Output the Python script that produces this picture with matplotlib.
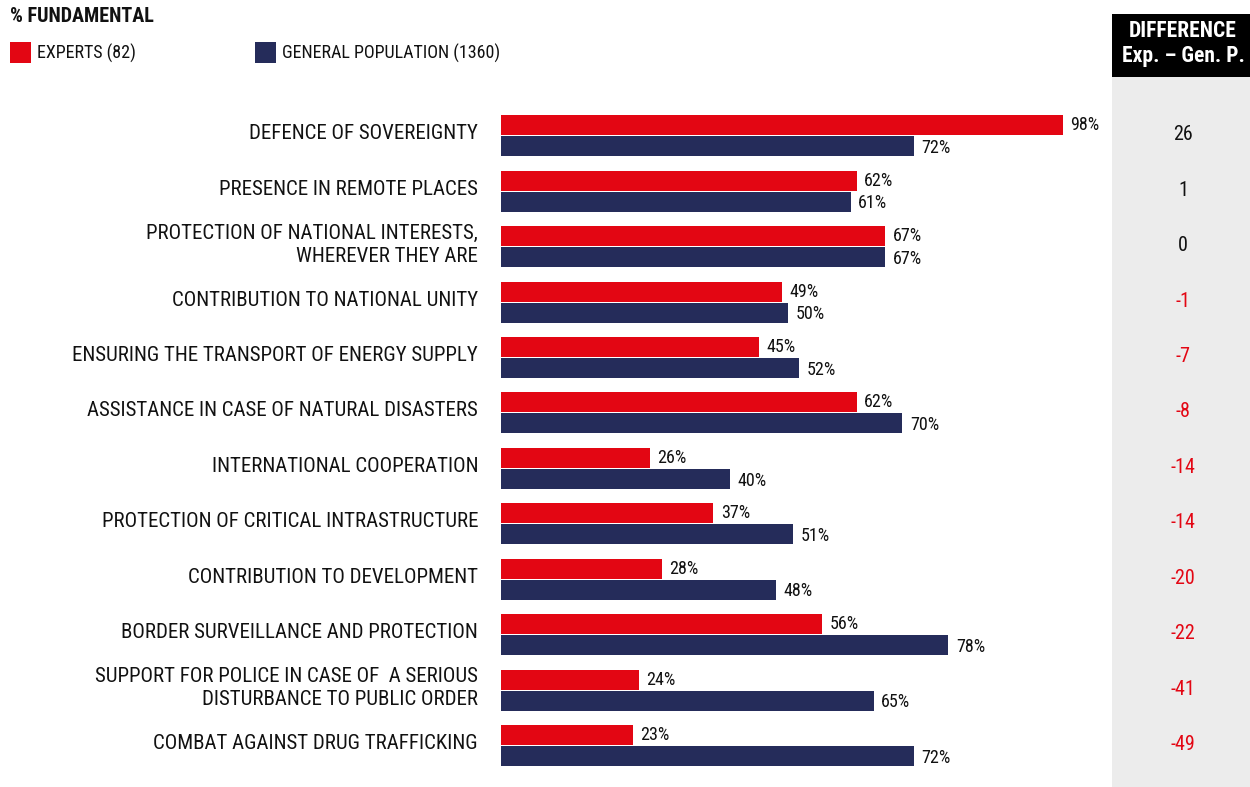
import matplotlib
matplotlib.use("Agg")
import matplotlib.pyplot as plt
from matplotlib.patches import Rectangle
import numpy as np

plt.rcParams['font.family'] = ['Roboto Condensed', 'Liberation Sans', 'DejaVu Sans']

categories = [
    "DEFENCE OF SOVEREIGNTY",
    "PRESENCE IN REMOTE PLACES",
    "PROTECTION OF NATIONAL INTERESTS,\nWHEREVER THEY ARE",
    "CONTRIBUTION TO NATIONAL UNITY",
    "ENSURING THE TRANSPORT OF ENERGY SUPPLY",
    "ASSISTANCE IN CASE OF NATURAL DISASTERS",
    "INTERNATIONAL COOPERATION",
    "PROTECTION OF CRITICAL INTRASTRUCTURE",
    "CONTRIBUTION TO DEVELOPMENT",
    "BORDER SURVEILLANCE AND PROTECTION",
    "SUPPORT FOR POLICE IN CASE OF  A SERIOUS\nDISTURBANCE TO PUBLIC ORDER",
    "COMBAT AGAINST DRUG TRAFFICKING",
]
experts = [98, 62, 67, 49, 45, 62, 26, 37, 28, 56, 24, 23]
general = [72, 61, 67, 50, 52, 70, 40, 51, 48, 78, 65, 72]
difference = [26, 1, 0, -1, -7, -8, -14, -14, -20, -22, -41, -49]

RED = '#e30613'
NAVY = '#252c5a'
GREY = '#ececec'
INK = '#111111'

W, H = 1250, 787
fig = plt.figure(figsize=(W / 100, H / 100), dpi=100)

# grey difference panel + black header (behind the axes)
fig.patches.append(Rectangle((1112 / W, 0), 138 / W, 1 - 14 / H, transform=fig.transFigure,
                             facecolor=GREY, edgecolor='none', zorder=-2))
fig.patches.append(Rectangle((1112 / W, 1 - 77 / H), 138 / W, 63 / H, transform=fig.transFigure,
                             facecolor='black', edgecolor='none', zorder=-1))
fig.text(1183 / W, 1 - 31 / H, "DIFFERENCE", color='white', fontweight='bold',
         fontsize=15.5, ha='center', va='center')
fig.text(1183 / W, 1 - 56 / H, "Exp. \u2013 Gen. P.", color='white', fontweight='bold',
         fontsize=15.5, ha='center', va='center')

# title and legend
fig.text(10 / W, 1 - 17 / H, "% FUNDAMENTAL", fontweight='bold', fontsize=14.5,
         ha='left', va='center', color=INK)
fig.patches.append(Rectangle((10 / W, 1 - 63 / H), 21 / W, 21 / H, transform=fig.transFigure,
                             facecolor=RED, edgecolor='none'))
fig.text(37 / W, 1 - 53 / H, "EXPERTS (82)", fontsize=13, ha='left', va='center', color=INK)
fig.patches.append(Rectangle((255 / W, 1 - 63 / H), 21 / W, 21 / H, transform=fig.transFigure,
                             facecolor=NAVY, edgecolor='none'))
fig.text(282 / W, 1 - 53 / H, "GENERAL POPULATION (1360)", fontsize=13, ha='left',
         va='center', color=INK)

# bar axes
n = len(categories)
row_h = 55.45
top = 108
ax = fig.add_axes([501 / W, 1 - (top + n * row_h) / H, 573.5 / W, n * row_h / H])
ax.set_xlim(0, 100)
ax.set_ylim(n - 0.5, -0.5)
ax.axis('off')

y = np.arange(n)
off = 10.5 / row_h
bh = 20 / row_h
ax.barh(y - off, experts, height=bh, color=RED)
ax.barh(y + off, general, height=bh, color=NAVY)

for i in range(n):
    ax.text(experts[i] + 1.3, y[i] - off, f"{experts[i]}%", va='center', ha='left',
            fontsize=13, color=INK, clip_on=False)
    ax.text(general[i] + 1.3, y[i] + off + 0.03, f"{general[i]}%", va='center', ha='left',
            fontsize=13, color=INK, clip_on=False)
    ax.annotate(categories[i], xy=(0, y[i]), xytext=(-23, 2), textcoords='offset pixels',
                ha='right', va='center', fontsize=15, color=INK,
                multialignment='right', linespacing=1.25, annotation_clip=False)
    d = difference[i]
    ax.annotate(str(d), xy=(1, y[i]), xycoords=('axes fraction', 'data'),
                xytext=(1183 - 1074.5, 1), textcoords='offset pixels',
                ha='center', va='center', fontsize=14.5,
                color=RED if d < 0 else INK, annotation_clip=False)

fig.savefig("out.png", dpi=100)
